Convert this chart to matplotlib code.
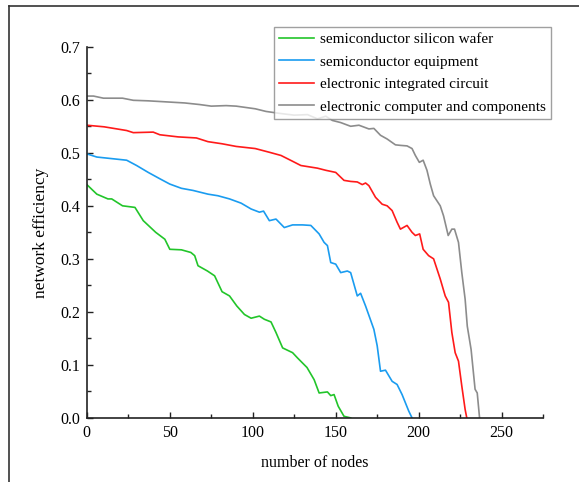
import matplotlib.pyplot as plt
from matplotlib.ticker import MultipleLocator
from matplotlib.lines import Line2D

wafer_x = [0, 6, 12.7, 15, 21.5, 29, 34, 41.5, 47, 50, 57, 62.7, 65, 67, 72.7, 77, 81.5, 86, 90.4, 95,
           99, 104, 107, 111, 114, 118, 124, 127, 132.7, 137, 140, 145, 147, 149, 151.5, 155, 159]
wafer_y = [0.44, 0.422, 0.413, 0.413, 0.400, 0.397, 0.372, 0.350, 0.337, 0.318, 0.317, 0.312, 0.306, 0.287,
           0.277, 0.268, 0.238, 0.230, 0.211, 0.195, 0.188, 0.192, 0.186, 0.181, 0.161, 0.132, 0.123, 0.113,
           0.095, 0.072, 0.047, 0.049, 0.042, 0.044, 0.022, 0.003, 0.0]

equip_x = [0, 6, 15, 24, 30, 37, 44, 50, 57, 64, 73, 79, 86, 93, 99, 104, 106.5, 110, 114, 119, 124, 130,
           135, 140, 143, 145, 147, 150, 153, 157, 159, 163, 165, 168, 173, 175, 177, 180, 184, 187, 190, 194, 196]
equip_y = [0.498, 0.492, 0.489, 0.486, 0.476, 0.463, 0.451, 0.441, 0.433, 0.429, 0.422, 0.419, 0.413, 0.405,
           0.394, 0.388, 0.390, 0.372, 0.375, 0.359, 0.364, 0.364, 0.363, 0.347, 0.331, 0.325, 0.293, 0.290,
           0.274, 0.277, 0.274, 0.230, 0.235, 0.211, 0.167, 0.136, 0.088, 0.090, 0.069, 0.063, 0.044, 0.013, 0.0]

ic_x = [0, 10.4, 24, 28, 40, 44, 55, 66, 73, 81.5, 90, 101.5, 110, 117, 124, 129, 135, 139, 144, 150, 155,
        159, 163, 166, 168, 170, 174, 178, 181, 184, 187, 189, 193, 196, 198, 200.6, 202.7, 206, 209, 213,
        216, 218, 220, 222, 224, 226, 228, 229]
ic_y = [0.552, 0.549, 0.542, 0.538, 0.539, 0.534, 0.530, 0.528, 0.521, 0.517, 0.512, 0.508, 0.501, 0.495,
        0.484, 0.476, 0.473, 0.471, 0.467, 0.463, 0.448, 0.446, 0.445, 0.440, 0.443, 0.438, 0.416, 0.403,
        0.400, 0.391, 0.369, 0.356, 0.363, 0.350, 0.344, 0.347, 0.318, 0.306, 0.300, 0.262, 0.230, 0.218,
        0.161, 0.123, 0.107, 0.060, 0.016, 0.0]

comp_x = [0, 4, 10, 21.5, 28, 37, 48, 59, 68, 75, 84, 90, 101.5, 108, 117, 125, 133, 139, 144, 148, 153,
          159, 164, 170, 173, 177, 181, 186, 189, 193, 196, 198, 200.4, 202.7, 205, 207, 209, 213, 215,
          217.8, 220, 221.6, 224, 226, 228, 229.3, 231.6, 234, 235.3, 236.7]
comp_y = [0.607, 0.607, 0.603, 0.603, 0.599, 0.598, 0.596, 0.594, 0.591, 0.588, 0.589, 0.588, 0.583, 0.578,
          0.574, 0.571, 0.572, 0.564, 0.569, 0.561, 0.557, 0.550, 0.552, 0.545, 0.546, 0.533, 0.526, 0.515,
          0.514, 0.513, 0.508, 0.495, 0.482, 0.486, 0.467, 0.441, 0.419, 0.400, 0.381, 0.344, 0.356, 0.356,
          0.331, 0.274, 0.224, 0.173, 0.129, 0.054, 0.047, 0.0]

labels = ["semiconductor silicon wafer", "semiconductor equipment",
          "electronic integrated circuit", "electronic computer and components"]
colors = ["#22c52a", "#1a9cf0", "#ff1a1a", "#8c8c8c"]

plt.rcParams['font.family'] = ['Liberation Serif', 'DejaVu Serif']

fig = plt.figure(figsize=(5.79, 4.82), dpi=100)
ax = fig.add_axes([0.150, 0.133, 0.788, 0.770])

series = [(wafer_x, wafer_y), (equip_x, equip_y), (ic_x, ic_y), (comp_x, comp_y)]
for (xs, ys), lab, col in zip(series, labels, colors):
    ax.plot(xs, ys, color=col, lw=1.2, label=lab)

ax.set_xlim(0, 275)
ax.set_ylim(0, 0.7)
ax.xaxis.set_major_locator(MultipleLocator(50))
ax.xaxis.set_minor_locator(MultipleLocator(25))
ax.yaxis.set_major_locator(MultipleLocator(0.1))
ax.yaxis.set_minor_locator(MultipleLocator(0.05))
ax.yaxis.set_major_formatter(plt.FuncFormatter(lambda v, p: f"{v:.1f}"))
ax.tick_params(which='both', direction='in', labelsize=11.5, color='#222222', width=1)
ax.tick_params(which='major', length=4, pad=5)
ax.tick_params(which='minor', length=3)
for s in ['top', 'right']:
    ax.spines[s].set_visible(False)
for s in ['left', 'bottom']:
    ax.spines[s].set_linewidth(1.2)
    ax.spines[s].set_color('#222222')

ax.set_xlabel("number of nodes", fontsize=11.5, labelpad=10)
ax.set_ylabel("network efficiency", fontsize=12.5, labelpad=8)

leg = fig.legend(loc='upper left', bbox_to_anchor=(274 / 579, 1 - 27 / 482), fontsize=11.0,
                 frameon=True, fancybox=False, borderpad=0.35, handlelength=2.3, handletextpad=0.35,
                 labelspacing=0.58, borderaxespad=0)
leg.get_frame().set_edgecolor('#888888')
leg.get_frame().set_linewidth(1.0)

# outer frame (left and top edges)
fig.add_artist(Line2D([9 / 579, 9 / 579], [0, 1 - 6 / 482], color='#333333', lw=1.2))
fig.add_artist(Line2D([9 / 579, 1], [1 - 6 / 482, 1 - 6 / 482], color='#333333', lw=1.2))

fig.savefig("out.png", dpi=100)
